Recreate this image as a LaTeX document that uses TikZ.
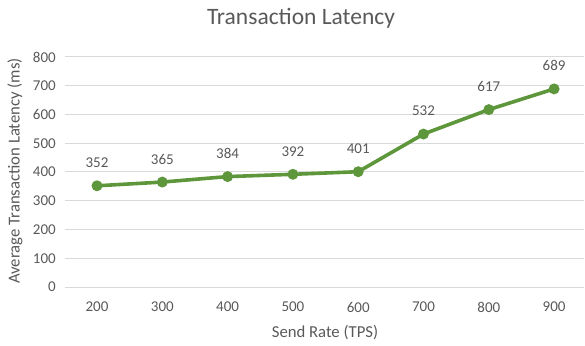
\documentclass[tikz,border=0pt]{standalone}
\usepackage{fontspec}
\setmainfont{Carlito}
\usetikzlibrary{positioning}
\definecolor{TextGray}{RGB}{89,89,89}
\definecolor{GridGray}{RGB}{217,217,217}
\definecolor{LineGreen}{RGB}{94,151,59}

\begin{document}
\begin{tikzpicture}[
  x=1pt, y=1pt,
  font=\fontsize{15}{18}\selectfont,
  grid/.style={GridGray, line width=1pt},
  ticklbl/.style={TextGray, inner sep=0pt},
  axtitle/.style={TextGray, inner sep=0pt, font=\fontsize{16.7}{20}\selectfont},
  dot/.style={circle, fill=LineGreen, inner sep=0pt, minimum size=11pt},
  series/.style={LineGreen, line width=3.6pt, line join=round},
  datalbl/.style={TextGray, inner sep=0pt},
]
\useasboundingbox (0,0) rectangle (585,345);

% Title
\node[TextGray, inner sep=0pt, font=\fontsize{23.5}{28}\selectfont] (title) at (301,327) {Transaction Latency};

% Gridlines and value axis
\foreach \v in {0,100,...,800}{
  \draw[grid] (65,{58+0.2875*\v}) -- (584,{58+0.2875*\v});
  \node[ticklbl, anchor=east] (y\v) at (56,{58+0.2875*\v}) {\v};
}

% Category axis
\foreach \c [count=\i from 0] in {200,300,...,900}
  \node[ticklbl] (x\c) at ({97+65.3*\i},38) {\c};

% Axis titles
\node[axtitle, rotate=90] (ytitle) at (15,174) {Average Transaction Latency (ms)};
\node[axtitle] (xtitle) at (325,12) {Send Rate (TPS)};

% Data positions
\foreach \v [count=\i from 0] in {352,365,384,392,401,532,617,689}
  \coordinate (c\i) at ({97+65.3*\i},{58+0.2875*\v});

% Series line
\draw[series] (c0) \foreach \i in {1,...,7}{ -- (c\i)};

% Markers and data labels
\foreach \v [count=\i from 0] in {352,365,384,392,401,532,617,689}{
  \node[dot] (p\i) at (c\i) {};
  \node[datalbl] (l\i) at ([yshift=23pt]p\i.center) {\v};
}

\end{tikzpicture}
\end{document}
